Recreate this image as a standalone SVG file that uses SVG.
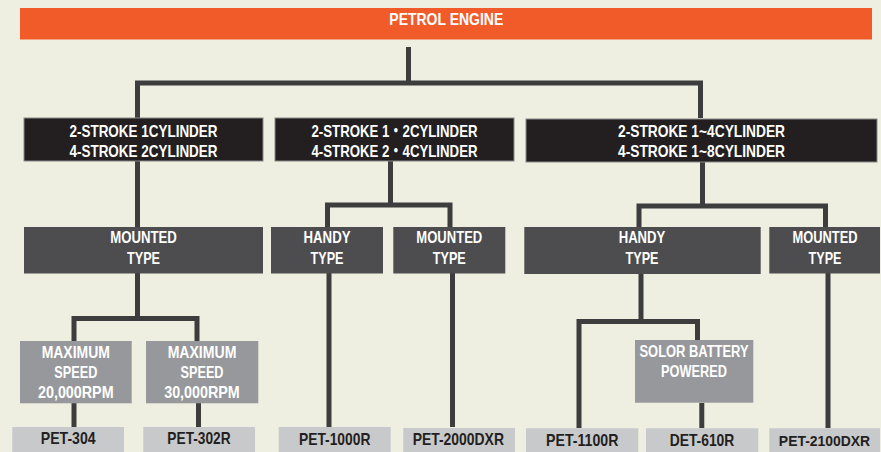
<svg xmlns="http://www.w3.org/2000/svg" width="881" height="452" viewBox="0 0 881 452">
<style>
text{font-family:"Liberation Sans","Noto Sans CJK JP",Arial,sans-serif;font-weight:bold;font-size:16.5px;text-anchor:middle}
.w{fill:#ffffff}
.d{fill:#231f20}
.top{fill:#f15a29}
.blk{fill:#231f20;stroke:#8a8a8a;stroke-width:1}
.dk{fill:#4d4d4f}
.md{fill:#97989b}
.lt{fill:#c8c9cb}
.con path{fill:none;stroke:#3d3d3e;stroke-width:5;stroke-linejoin:miter;stroke-linecap:butt}
</style>
<rect x="0" y="0" width="881" height="452" fill="#efefe1"/>

<g class="con" id="connectors">
<path d="M408.5,47 V83"/>
<path d="M137.5,118 V83 H700.5 V118"/>
<path d="M137.5,161 V227"/>
<path d="M390.5,161 V205"/>
<path d="M327.5,227 V205 H450 V227"/>
<path d="M702.5,162 V206"/>
<path d="M639,227 V206 H825.5 V227"/>
<path d="M137.5,273 V318.5"/>
<path d="M74,341 V318.5 H197 V341"/>
<path d="M329,273 V427"/>
<path d="M452.5,273 V427"/>
<path d="M641,274 V321.5"/>
<path d="M579,428 V321.5 H697.5 V340"/>
<path d="M828,273 V428"/>
<path d="M74,403 V427"/>
<path d="M198.5,403 V427"/>
<path d="M701.8,403 V428"/>
</g>

<g id="petrol-engine">
<rect class="top" x="20" y="8" width="852" height="31.5"/>
<text class="w" x="446.3" y="25" textLength="114" lengthAdjust="spacingAndGlyphs">PETROL ENGINE</text>
</g>

<g id="cyl-1">
<rect class="blk" x="24" y="118" width="239" height="43"/>
<text class="w" x="143.5" y="136.5" textLength="148" lengthAdjust="spacingAndGlyphs">2-STROKE 1CYLINDER</text>
<text class="w" x="143.5" y="156.5" textLength="148" lengthAdjust="spacingAndGlyphs">4-STROKE 2CYLINDER</text>
</g>
<g id="cyl-2">
<rect class="blk" x="275" y="118" width="239" height="43"/>
<text class="w" x="394.5" y="136.5" textLength="166" lengthAdjust="spacingAndGlyphs">2-STROKE 1・2CYLINDER</text>
<text class="w" x="394.5" y="156.5" textLength="166" lengthAdjust="spacingAndGlyphs">4-STROKE 2・4CYLINDER</text>
</g>
<g id="cyl-3">
<rect class="blk" x="526" y="119" width="351" height="43"/>
<text class="w" x="701.5" y="136.7" textLength="167" lengthAdjust="spacingAndGlyphs">2-STROKE 1~4CYLINDER</text>
<text class="w" x="701.5" y="156.7" textLength="167" lengthAdjust="spacingAndGlyphs">4-STROKE 1~8CYLINDER</text>
</g>

<g id="mounted-a">
<rect class="dk" x="24" y="227" width="239" height="46.5"/>
<text class="w" x="143.5" y="242.7" textLength="66.7" lengthAdjust="spacingAndGlyphs">MOUNTED</text>
<text class="w" x="143.5" y="264" textLength="33" lengthAdjust="spacingAndGlyphs">TYPE</text>
</g>
<g id="handy-b">
<rect class="dk" x="271" y="227" width="112" height="46.5"/>
<text class="w" x="327" y="242.7" textLength="47" lengthAdjust="spacingAndGlyphs">HANDY</text>
<text class="w" x="327" y="264" textLength="33" lengthAdjust="spacingAndGlyphs">TYPE</text>
</g>
<g id="mounted-c">
<rect class="dk" x="393.3" y="227" width="112" height="46.5"/>
<text class="w" x="449.3" y="242.7" textLength="66" lengthAdjust="spacingAndGlyphs">MOUNTED</text>
<text class="w" x="449.3" y="264" textLength="33" lengthAdjust="spacingAndGlyphs">TYPE</text>
</g>
<g id="handy-d">
<rect class="dk" x="524.3" y="227" width="236.4" height="47"/>
<text class="w" x="642" y="242.7" textLength="46.7" lengthAdjust="spacingAndGlyphs">HANDY</text>
<text class="w" x="642" y="264" textLength="33" lengthAdjust="spacingAndGlyphs">TYPE</text>
</g>
<g id="mounted-e">
<rect class="dk" x="769.3" y="227" width="110.7" height="46.5"/>
<text class="w" x="825" y="242.7" textLength="65" lengthAdjust="spacingAndGlyphs">MOUNTED</text>
<text class="w" x="825" y="264" textLength="33" lengthAdjust="spacingAndGlyphs">TYPE</text>
</g>

<g id="speed-20000">
<rect class="md" x="20" y="341" width="111.7" height="62.3"/>
<text class="w" x="75.8" y="357.7" textLength="68.3" lengthAdjust="spacingAndGlyphs">MAXIMUM</text>
<text class="w" x="75.8" y="378.3" textLength="43" lengthAdjust="spacingAndGlyphs">SPEED</text>
<text class="w" x="75.8" y="398.4" textLength="75.6" lengthAdjust="spacingAndGlyphs">20,000RPM</text>
</g>
<g id="speed-30000">
<rect class="md" x="146" y="341" width="112.3" height="62.3"/>
<text class="w" x="202" y="357.7" textLength="68.7" lengthAdjust="spacingAndGlyphs">MAXIMUM</text>
<text class="w" x="202" y="378.3" textLength="43" lengthAdjust="spacingAndGlyphs">SPEED</text>
<text class="w" x="202" y="398.4" textLength="75.6" lengthAdjust="spacingAndGlyphs">30,000RPM</text>
</g>
<g id="solar">
<rect class="md" x="635" y="340" width="118.3" height="62.7"/>
<text class="w" x="694" y="357.3" textLength="109" lengthAdjust="spacingAndGlyphs">SOLOR BATTERY</text>
<text class="w" x="694" y="377.3" textLength="66" lengthAdjust="spacingAndGlyphs">POWERED</text>
</g>

<g id="pet-304">
<rect class="lt" x="12.3" y="427" width="111.7" height="25"/>
<text class="d" x="68.2" y="444.2" textLength="54.7" lengthAdjust="spacingAndGlyphs">PET-304</text>
</g>
<g id="pet-302r">
<rect class="lt" x="143.3" y="427" width="111.7" height="25"/>
<text class="d" x="199" y="444.2" textLength="63.3" lengthAdjust="spacingAndGlyphs">PET-302R</text>
</g>
<g id="pet-1000r">
<rect class="lt" x="278.7" y="427" width="112" height="25"/>
<text class="d" x="334.7" y="444.5" textLength="71.3" lengthAdjust="spacingAndGlyphs">PET-1000R</text>
</g>
<g id="pet-2000dxr">
<rect class="lt" x="403.3" y="428" width="111.7" height="24"/>
<text class="d" x="458.3" y="445" textLength="91.3" lengthAdjust="spacingAndGlyphs">PET-2000DXR</text>
</g>
<g id="pet-1100r">
<rect class="lt" x="526" y="428.3" width="112.3" height="23.7"/>
<text class="d" x="582.2" y="446" textLength="72.3" lengthAdjust="spacingAndGlyphs">PET-1100R</text>
</g>
<g id="det-610r">
<rect class="lt" x="646" y="428.3" width="112.3" height="23.7"/>
<text class="d" x="702" y="446" textLength="64.7" lengthAdjust="spacingAndGlyphs">DET-610R</text>
</g>
<g id="pet-2100dxr">
<rect class="lt" x="769.3" y="428.3" width="110.7" height="23.7"/>
<text class="d" x="824.5" y="445.5" style="font-size:15px" textLength="91.3" lengthAdjust="spacingAndGlyphs">PET-2100DXR</text>
</g>
</svg>
